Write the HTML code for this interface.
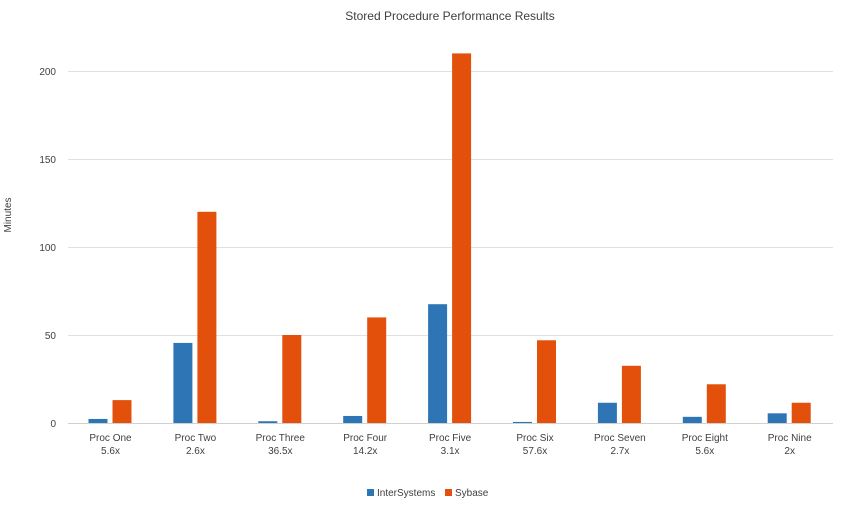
<!DOCTYPE html>
<html><head><meta charset="utf-8"><style>
body{margin:0;background:#fff;}
svg{display:block;font-family:"Liberation Sans",sans-serif;}
</style></head><body>
<svg width="850" height="506" viewBox="0 0 850 506" xmlns="http://www.w3.org/2000/svg">
<rect width="850" height="506" fill="#fff"/>
<text x="450" y="20" font-size="12" text-anchor="middle" fill="#404040">Stored Procedure Performance Results</text>
<g stroke="#e0e0e0" stroke-width="1">
<line x1="68" x2="833" y1="71.5" y2="71.5"/>
<line x1="68" x2="833" y1="159.5" y2="159.5"/>
<line x1="68" x2="833" y1="247.5" y2="247.5"/>
<line x1="68" x2="833" y1="335.5" y2="335.5"/>
</g>
<line x1="68" x2="833" y1="423.5" y2="423.5" stroke="#d0d0d0"/>
<g font-size="10" fill="#404040" text-anchor="end">
<text x="56" y="75">200</text>
<text x="56" y="163">150</text>
<text x="56" y="251">100</text>
<text x="56" y="339">50</text>
<text x="56" y="427">0</text>
</g>
<text transform="translate(11,215) rotate(-90)" font-size="10" fill="#404040" text-anchor="middle">Minutes</text>
<g id="bars"></g>
<g font-size="10" fill="#404040" text-anchor="middle" id="labels"></g>
<rect x="367" y="489" width="7" height="7" fill="#2e75b6"/>
<text x="377" y="496" font-size="10" fill="#404040">InterSystems</text>
<rect x="445" y="489" width="7" height="7" fill="#e2500c"/>
<text x="455" y="496" font-size="10" fill="#404040">Sybase</text>
<script>
var d=[["Proc One","5.6x",2.3,13],["Proc Two","2.6x",45.5,120],["Proc Three","36.5x",1,50],["Proc Four","14.2x",4,60],["Proc Five","3.1x",67.5,210],["Proc Six","57.6x",0.6,47],["Proc Seven","2.7x",11.5,32.5],["Proc Eight","5.6x",3.5,22],["Proc Nine","2x",5.5,11.5]];
var b=document.getElementById('bars'),l=document.getElementById('labels'),ns="http://www.w3.org/2000/svg";
function r(x,v,c){var e=document.createElementNS(ns,'rect');var h=v*1.76;e.setAttribute('x',x);e.setAttribute('y',423-h);e.setAttribute('width',19);e.setAttribute('height',h);e.setAttribute('fill',c);b.appendChild(e);}
function t(x,y,s){var e=document.createElementNS(ns,'text');e.setAttribute('x',x);e.setAttribute('y',y);e.textContent=s;l.appendChild(e);}
d.forEach(function(p,i){var c=68+i*84.9;r(c+20.5,p[2],'#2e75b6');r(c+44.5,p[3],'#e2500c');t(c+42.5,441,p[0]);t(c+42.5,454,p[1]);});
</script>
</svg>
</body></html>
